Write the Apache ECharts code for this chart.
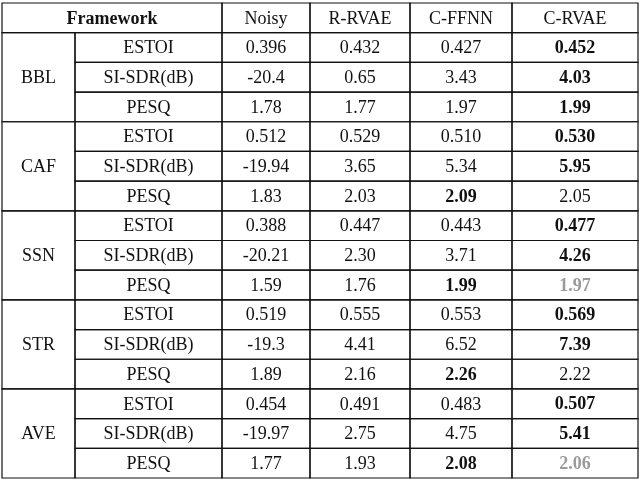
<!DOCTYPE html>
<html><head><meta charset="utf-8">
<script src="https://cdn.jsdelivr.net/npm/echarts@6/dist/echarts.min.js"></script>
<style>html,body{margin:0;padding:0;background:#fff}#c{width:640px;height:481px}</style>
</head><body><div id="c"></div>
<script>
const headers = ["Noisy", "R-RVAE", "C-FFNN", "C-RVAE"];
const groups = ["BBL", "CAF", "SSN", "STR", "AVE"];
const metrics = ["ESTOI", "SI-SDR(dB)", "PESQ"];
const noisy  = ["0.396","-20.4","1.78","0.512","-19.94","1.83","0.388","-20.21","1.59","0.519","-19.3","1.89","0.454","-19.97","1.77"];
const rrvae  = ["0.432","0.65","1.77","0.529","3.65","2.03","0.447","2.30","1.76","0.555","4.41","2.16","0.491","2.75","1.93"];
const cffnn  = ["0.427","3.43","1.97","0.510","5.34","2.09","0.443","3.71","1.99","0.553","6.52","2.26","0.483","4.75","2.08"];
const crvae  = ["0.452","4.03","1.99","0.530","5.95","2.05","0.477","4.26","1.97","0.569","7.39","2.22","0.507","5.41","2.06"];
// emphasis flags per cell: 0 normal, 1 bold, 2 bold grey
const cffnnStyle = [0,0,0, 0,0,1, 0,0,1, 0,0,1, 0,0,1];
const crvaeStyle = [1,1,1, 1,1,0, 1,1,2, 1,1,0, 1,1,2];

// layout: column edges (x axis units) – not data
const EDGES = [0, 73, 220, 308, 408, 510, 636];

const cells = []; // [x0, x1, row0, row1, text, style]
cells.push([EDGES[0], EDGES[2], 0, 1, "Framework", 1]);
headers.forEach((h,i)=>cells.push([EDGES[i+2], EDGES[i+3], 0, 1, h, 0]));
groups.forEach((g,gi)=>{
  const r0 = 1 + gi*3;
  cells.push([EDGES[0], EDGES[1], r0, r0+3, g, 0]);
  metrics.forEach((m,mi)=>{
    const r = r0+mi, k = gi*3+mi;
    cells.push([EDGES[1], EDGES[2], r, r+1, m, 0]);
    cells.push([EDGES[2], EDGES[3], r, r+1, noisy[k], 0]);
    cells.push([EDGES[3], EDGES[4], r, r+1, rrvae[k], 0]);
    cells.push([EDGES[4], EDGES[5], r, r+1, cffnn[k], cffnnStyle[k]]);
    cells.push([EDGES[5], EDGES[6], r, r+1, crvae[k], crvaeStyle[k]]);
  });
});

const chart = echarts.init(document.getElementById('c'));
chart.setOption({
  animation:false,
  grid:{left:2,right:2,top:3,bottom:3},
  xAxis:{type:'value',min:0,max:636,show:false},
  yAxis:{type:'value',min:0,max:16,inverse:true,show:false},
  series:[{
    type:'custom',
    data:cells,
    encode:{x:[0,1],y:[2,3]},
    renderItem:(params, api)=>{
      const p0 = api.coord([api.value(0), api.value(2)]);
      const p1 = api.coord([api.value(1), api.value(3)]);
      const st = api.value(5);
      return {type:'group',children:[
        {type:'rect',shape:{x:p0[0],y:p0[1],width:p1[0]-p0[0],height:p1[1]-p0[1]},
         style:{fill:'none',stroke:'#111',lineWidth:1.2}},
        {type:'text',style:{x:(p0[0]+p1[0])/2,y:(p0[1]+p1[1])/2+1,text:String(api.value(4)),
          align:'center',verticalAlign:'middle',
          font:(st?'bold ':'')+'18px "Liberation Serif", serif',
          fill: st===2?'#9a9a9a':'#111'}}
      ]};
    }
  }]
});
</script></body></html>
